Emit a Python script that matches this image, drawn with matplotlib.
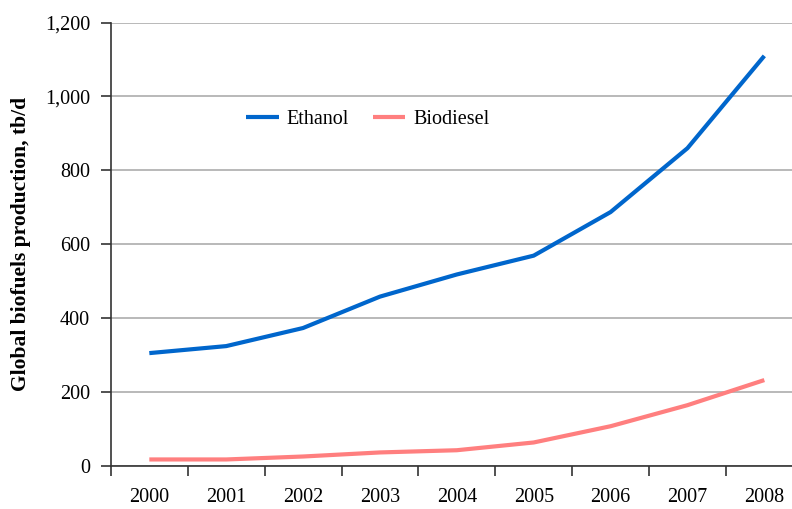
import numpy as np
import matplotlib.pyplot as plt
from matplotlib.ticker import FuncFormatter, FixedLocator

# production by year, thousand barrels per day
years = ["2000", "2001", "2002", "2003", "2004", "2005", "2006", "2007", "2008"]
ethanol = [305, 324, 373, 458, 518, 569, 687, 860, 1110]
biodiesel = [17, 17, 25, 36, 42, 63, 107, 164, 232]

plt.rcParams["font.family"] = ["Liberation Serif", "DejaVu Serif"]

fig = plt.figure(figsize=(7.92, 5.09), dpi=100)
ax = fig.add_axes([0.140, 0.085, 0.86, 0.8705])

x = np.arange(len(years))
ax.plot(x, ethanol, color="#0066CC", lw=3, label="Ethanol", solid_capstyle="butt")
ax.plot(x, biodiesel, color="#FF7F7F", lw=3, label="Biodiesel", solid_capstyle="butt")

ax.set_ylim(0, 1200)
ax.set_xlim(-0.5, 8.36)
ax.set_yticks(np.arange(0, 1201, 200))
ax.yaxis.set_major_formatter(FuncFormatter(lambda v, p: f"{int(v):,}"))
ax.grid(axis="y", color="#A6A6A6", lw=1.1)
ax.set_axisbelow(True)

# year labels centred, tick marks on category boundaries
ax.set_xticks(x)
ax.set_xticklabels(years)
ax.xaxis.set_minor_locator(FixedLocator(np.arange(-0.5, 8.5, 1.0)))
ax.tick_params(axis="x", which="major", length=0, pad=16, labelsize=14.5)
ax.tick_params(axis="x", which="minor", length=7, width=1.2, color="#333333")
ax.tick_params(axis="y", length=7, width=1.2, color="#333333", pad=8, labelsize=14.5)

for side in ["top", "right"]:
    ax.spines[side].set_visible(False)
for side in ["left", "bottom"]:
    ax.spines[side].set_color("#333333")
    ax.spines[side].set_linewidth(1.2)

ax.set_ylabel("Global biofuels production, tb/d", fontsize=15.5, fontweight="bold", labelpad=10)

ax.legend(loc="center", bbox_to_anchor=(368 / 792, 1 - 119 / 509),
          bbox_transform=fig.transFigure, ncol=2, frameon=False,
          fontsize=14.5, handlelength=1.6, handletextpad=0.4, columnspacing=1.2)

plt.savefig("out.png", dpi=100)
